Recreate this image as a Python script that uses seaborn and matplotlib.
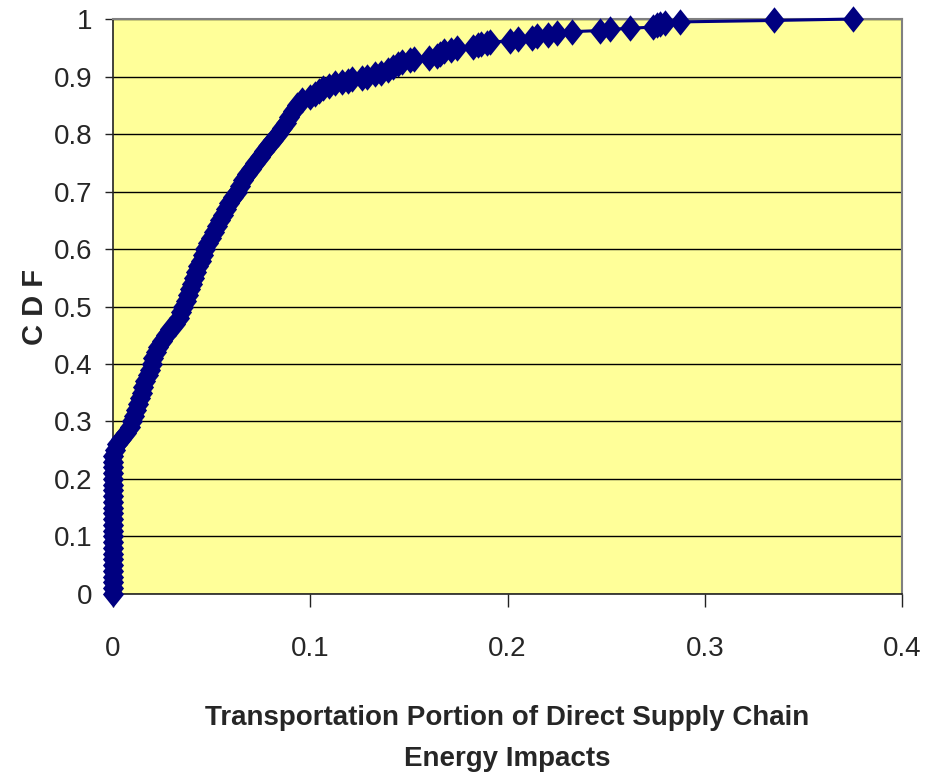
import numpy as np
import pandas as pd
import seaborn as sns
import matplotlib.pyplot as plt
from matplotlib.ticker import FuncFormatter, MultipleLocator

# transportation share of direct supply chain energy (x) and its CDF (y)
zero_cdf = [0.0, 0.01, 0.02, 0.03, 0.04, 0.05, 0.06, 0.07, 0.08, 0.09, 0.10, 0.11, 0.12,
            0.13, 0.14, 0.15, 0.16, 0.17, 0.18, 0.19, 0.20, 0.21, 0.22, 0.23, 0.24]

share = [0.001, 0.002, 0.004, 0.0065, 0.0086, 0.0095, 0.0105, 0.0115, 0.0125, 0.0138,
         0.0145, 0.0152, 0.0163, 0.0175, 0.0186, 0.0196, 0.0205, 0.0218, 0.0230, 0.0250,
         0.0268, 0.0290, 0.0315, 0.0332, 0.0345, 0.0356, 0.0368, 0.0380, 0.0390, 0.0400,
         0.0410, 0.0420, 0.0432, 0.0445, 0.0454, 0.0468, 0.0482, 0.0497, 0.0510, 0.0526,
         0.0540, 0.0555, 0.0574, 0.0590, 0.0608, 0.0627, 0.0645, 0.0660, 0.0680, 0.0700,
         0.0720, 0.0745, 0.0765, 0.0788, 0.0810, 0.0835, 0.0857, 0.0875, 0.0893, 0.0910,
         0.0935, 0.0960, 0.1000, 0.1025, 0.1045, 0.1065, 0.1095, 0.1125, 0.1160, 0.1190,
         0.1210, 0.1260, 0.1290, 0.1330, 0.1360, 0.1395, 0.1420, 0.1445, 0.1465, 0.1505,
         0.1525, 0.1600, 0.1640, 0.1660, 0.1680, 0.1715, 0.1745, 0.1825, 0.1850, 0.1865,
         0.1895, 0.1910, 0.2013, 0.2053, 0.2124, 0.2150, 0.2205, 0.2251, 0.2327, 0.2470,
         0.2520, 0.2620, 0.2738, 0.2758, 0.2773, 0.2800, 0.2875, 0.3350, 0.3750]

cdf = [0.25, 0.26, 0.27, 0.28, 0.29, 0.30, 0.31, 0.32, 0.33, 0.34,
       0.35, 0.36, 0.37, 0.38, 0.39, 0.40, 0.41, 0.42, 0.43, 0.44,
       0.45, 0.46, 0.47, 0.48, 0.49, 0.50, 0.51, 0.52, 0.53, 0.54,
       0.55, 0.56, 0.57, 0.58, 0.59, 0.60, 0.61, 0.62, 0.63, 0.64,
       0.65, 0.66, 0.67, 0.68, 0.69, 0.70, 0.71, 0.72, 0.73, 0.74,
       0.75, 0.76, 0.77, 0.78, 0.79, 0.80, 0.81, 0.82, 0.83, 0.84,
       0.85, 0.86, 0.865, 0.87, 0.875, 0.88, 0.884, 0.888, 0.891, 0.893,
       0.895, 0.897, 0.900, 0.904, 0.907, 0.911, 0.916, 0.921, 0.925, 0.928,
       0.930, 0.932, 0.936, 0.940, 0.944, 0.947, 0.950, 0.952, 0.955, 0.956,
       0.958, 0.960, 0.962, 0.965, 0.967, 0.970, 0.973, 0.975, 0.978, 0.980,
       0.982, 0.984, 0.986, 0.989, 0.991, 0.993, 0.995, 0.9975, 1.0]

df = pd.DataFrame({
    "share": [0.0] * len(zero_cdf) + share,
    "cdf": zero_cdf + cdf,
})

sns.set_style("white", {"axes.facecolor": "#FFFF99"})
plt.rcParams["font.family"] = ["Liberation Sans", "DejaVu Sans"]

# Excel-style diamond, a bit taller than wide
diamond = [(-0.8, 0), (0, 1), (0.8, 0), (0, -1), (-0.8, 0)]

fig = plt.figure(figsize=(9.31, 7.8), dpi=100)
ax = fig.add_axes([0.1214, 0.2385, 0.8475, 0.7371])

sns.lineplot(data=df, x="share", y="cdf", sort=False, estimator=None, ax=ax,
             color="#000080", linewidth=2.2, marker=diamond, markersize=19,
             markeredgewidth=0, clip_on=False, zorder=5)

ax.set_xlim(0, 0.4)
ax.set_ylim(0, 1)
ax.xaxis.set_major_locator(MultipleLocator(0.1))
ax.yaxis.set_major_locator(MultipleLocator(0.1))
fmt = FuncFormatter(lambda v, _: f"{v:g}")
ax.xaxis.set_major_formatter(fmt)
ax.yaxis.set_major_formatter(fmt)
ax.grid(axis="y", color="black", linewidth=1)
ax.set_axisbelow(True)

for s in ["top", "right"]:
    ax.spines[s].set_color("#808080")
    ax.spines[s].set_linewidth(1.5)
for s in ["left", "bottom"]:
    ax.spines[s].set_color("#222222")
    ax.spines[s].set_linewidth(1.2)

ax.tick_params(axis="y", direction="out", length=6, width=1, color="#222222",
               labelsize=20, pad=9, left=True)
ax.tick_params(axis="x", direction="out", length=9, width=1, color="#222222",
               labelsize=20, pad=21, bottom=True)

ax.set_ylabel("C D F", fontsize=21, fontweight="bold", labelpad=3)
ax.set_xlabel("Transportation Portion of Direct Supply Chain\nEnergy Impacts",
              fontsize=20, fontweight="bold", labelpad=31, linespacing=1.75)

fig.savefig("out.png", dpi=100)
